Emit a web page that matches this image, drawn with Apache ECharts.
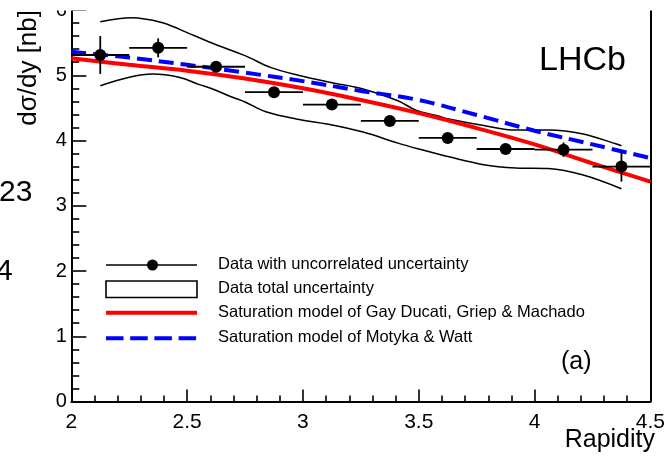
<!DOCTYPE html>
<html>
<head>
<meta charset="utf-8">
<script src="https://cdn.jsdelivr.net/npm/echarts@6/dist/echarts.min.js"></script>
<style>
  html, body { margin: 0; padding: 0; background: #fff; }
  #chart { width: 668px; height: 458px; }
</style>
</head>
<body>
<div id="chart"></div>
<script>
// J/psi differential cross-section versus rapidity
const rapidity = [2.125, 2.375, 2.625, 2.875, 3.125, 3.375, 3.625, 3.875, 4.125, 4.375];
const dsigma   = [5.31, 5.42, 5.13, 4.74, 4.55, 4.30, 4.04, 3.87, 3.86, 3.60];
const binHalf  = [0.125, 0.125, 0.125, 0.125, 0.125, 0.125, 0.125, 0.125, 0.125, 0.125];
const uncorrErr = [0.29, 0.145, 0.06, 0.06, 0.06, 0.06, 0.06, 0.06, 0.11, 0.23];

// total uncertainty envelope (upper / lower edges)
const totalUpper = [
  [2.125, 5.82], [2.26, 5.88], [2.39, 5.81], [2.47, 5.70], [2.61, 5.49], [2.75, 5.30],
  [2.86, 5.12], [2.98, 5.00], [3.12, 4.89], [3.26, 4.79], [3.41, 4.61], [3.49, 4.46],
  [3.58, 4.38], [3.63, 4.33], [3.78, 4.23], [3.92, 4.16], [4.06, 4.16], [4.21, 4.10],
  [4.35, 3.95], [4.375, 3.92]
];
const totalLower = [
  [2.125, 4.84], [2.25, 4.97], [2.35, 5.02], [2.465, 4.97], [2.55, 4.86], [2.61, 4.79],
  [2.69, 4.67], [2.75, 4.59], [2.84, 4.44], [2.97, 4.33], [3.11, 4.25], [3.26, 4.13],
  [3.41, 3.96], [3.50, 3.87], [3.63, 3.75], [3.78, 3.63], [3.92, 3.58], [4.06, 3.57],
  [4.21, 3.47], [4.375, 3.26]
];

// model predictions
const modelY  = [2.0, 2.25, 2.5, 2.75, 3.0, 3.25, 3.5, 3.75, 4.0, 4.25, 4.5];
const gdgm    = [5.26, 5.16, 5.07, 4.95, 4.80, 4.62, 4.42, 4.19, 3.94, 3.65, 3.37];
const motyka  = [5.36, 5.27, 5.16, 5.04, 4.91, 4.76, 4.62, 4.39, 4.15, 3.94, 3.73];

// axis ticks
const xTicks = { min: 2, max: 4.5, step: 0.5 };
const yTicks = { min: 0, max: 6, step: 1 };

const legendLabels = [
  'Data with uncorrelated uncertainty',
  'Data total uncertainty',
  'Saturation model of Gay Ducati, Griep & Machado',
  'Saturation model of Motyka & Watt'
];

const FONT = '"Liberation Sans", Arial, sans-serif';
const chart = echarts.init(document.getElementById('chart'), null, { renderer: 'canvas' });

const pairs = (xs, ys) => xs.map((x, i) => [x, ys[i]]);
const errData = rapidity.map((x, i) => [x, dsigma[i], binHalf[i], uncorrErr[i]]);

function axisCommon(t, tickLen, minorLen, labelSize, labelMargin) {
  return {
    type: 'value',
    min: t.min, max: t.max, interval: t.step,
    axisLine: { show: true, onZero: false, lineStyle: { color: '#000', width: 2 } },
    axisTick: { show: true, inside: true, length: tickLen, lineStyle: { color: '#000', width: 1.6 } },
    minorTick: { show: true, splitNumber: 5, length: minorLen, lineStyle: { color: '#000', width: 1.6 } },
    axisLabel: { color: '#000', fontSize: labelSize, fontFamily: FONT, margin: labelMargin },
    splitLine: { show: false },
    minorSplitLine: { show: false }
  };
}

// legend rows
const legX1 = 106, legX2 = 197, legTextX = 218;
const legRowY = [265, 289.2, 312.7, 338.2];
const legendGraphics = [
  { type: 'line', shape: { x1: legX1, y1: legRowY[0], x2: legX2, y2: legRowY[0] }, style: { stroke: '#000', lineWidth: 1.6 } },
  { type: 'circle', shape: { cx: (legX1 + legX2) / 2 + 1, cy: legRowY[0], r: 5.5 }, style: { fill: '#000' } },
  { type: 'rect', shape: { x: legX1, y: 281, width: legX2 - legX1, height: 16.5 }, style: { fill: '#fff', stroke: '#000', lineWidth: 1.6 } },
  { type: 'line', shape: { x1: legX1, y1: legRowY[2], x2: legX2, y2: legRowY[2] }, style: { stroke: '#ff0000', lineWidth: 4 } },
  { type: 'line', shape: { x1: legX1, y1: legRowY[3], x2: legX2, y2: legRowY[3] }, style: { stroke: '#0000ff', lineWidth: 4, lineDash: [17.5, 6.7] } }
].concat(legendLabels.map((t, i) => ({
  type: 'text', x: legTextX, y: legRowY[i] - 0.5,
  style: { text: t, font: '16.5px ' + FONT, fill: '#000', align: 'left', verticalAlign: 'middle' }
})));

const option = {
  backgroundColor: '#fff',
  animation: false,
  grid: { left: 71.3, right: 13, top: 7, bottom: 56.5, containLabel: false },
  xAxis: axisCommon(xTicks, 12, 6, 21, 10.5),
  yAxis: [
    axisCommon(yTicks, 15, 8, 20, 4.5),
    {
      type: 'value', position: 'right', min: yTicks.min, max: yTicks.max,
      axisLine: { show: true, lineStyle: { color: '#000', width: 2 } },
      axisTick: { show: false }, axisLabel: { show: false }, splitLine: { show: false }
    }
  ],
  series: [
    {
      name: 'upper', type: 'line', data: totalUpper, smooth: 0.35, showSymbol: false,
      lineStyle: { color: '#000', width: 1.5 }, z: 2, silent: true
    },
    {
      name: 'lower', type: 'line', data: totalLower, smooth: 0.35, showSymbol: false,
      lineStyle: { color: '#000', width: 1.5 }, z: 2, silent: true
    },
    {
      name: legendLabels[2], type: 'line', data: pairs(modelY, gdgm), smooth: 0.4, showSymbol: false,
      lineStyle: { color: '#ff0000', width: 4 }, z: 3, silent: true
    },
    {
      name: legendLabels[3], type: 'line', data: pairs(modelY, motyka), smooth: 0.4, showSymbol: false,
      lineStyle: { color: '#0000ff', width: 4, type: [15, 7] }, z: 4, silent: true
    },
    {
      name: 'errors', type: 'custom', data: errData, encode: { x: 0, y: 1 }, z: 5, silent: true,
      renderItem: function (params, api) {
        const x = api.value(0), y = api.value(1), ex = api.value(2), ey = api.value(3);
        const l = api.coord([x - ex, y]), r = api.coord([x + ex, y]);
        const t = api.coord([x, y + ey]), b = api.coord([x, y - ey]);
        const st = { stroke: '#000', lineWidth: 1.8 };
        return {
          type: 'group',
          children: [
            { type: 'line', shape: { x1: l[0], y1: l[1], x2: r[0], y2: r[1] }, style: st },
            { type: 'line', shape: { x1: t[0], y1: t[1], x2: b[0], y2: b[1] }, style: st }
          ]
        };
      }
    },
    {
      name: legendLabels[0], type: 'scatter', data: pairs(rapidity, dsigma),
      symbol: 'circle', symbolSize: 12, itemStyle: { color: '#000', opacity: 1 }, z: 6, silent: true
    }
  ],
  graphic: [
    // strip across the top edge of the frame
    { type: 'rect', z: 100, shape: { x: 40, y: 0, width: 628, height: 10.5 }, style: { fill: '#fff' } },
    {
      type: 'text', z: 101, x: 28.5, y: 10, rotation: Math.PI / 2,
      style: { text: 'dσ/dy [nb]', font: '26px ' + FONT, fill: '#000', align: 'right', verticalAlign: 'middle' }
    },
    {
      type: 'text', z: 101, x: 655, y: 440,
      style: { text: 'Rapidity', font: '25px ' + FONT, fill: '#000', align: 'right', verticalAlign: 'middle' }
    },
    {
      type: 'text', z: 101, x: 539, y: 61,
      style: { text: 'LHCb', font: '34px ' + FONT, fill: '#000', align: 'left', verticalAlign: 'middle' }
    },
    {
      type: 'text', z: 101, x: 561, y: 362,
      style: { text: '(a)', font: '25px ' + FONT, fill: '#000', align: 'left', verticalAlign: 'middle' }
    },
    {
      type: 'text', z: 101, x: -1, y: 193,
      style: { text: '23', font: '30px ' + FONT, fill: '#000', align: 'left', verticalAlign: 'middle' }
    },
    {
      type: 'text', z: 101, x: -4, y: 272,
      style: { text: '4', font: '30px ' + FONT, fill: '#000', align: 'left', verticalAlign: 'middle' }
    },
    { type: 'group', z: 101, children: legendGraphics }
  ]
};

chart.setOption(option);
</script>
</body>
</html>
